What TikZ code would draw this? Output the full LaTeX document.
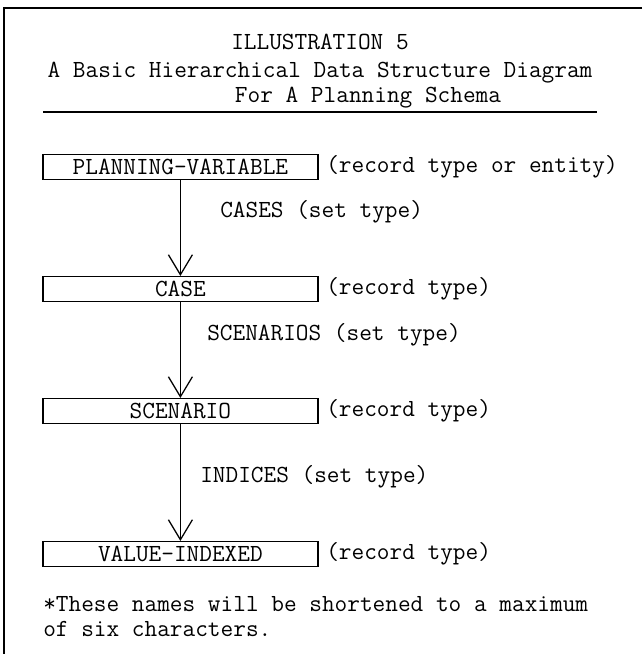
\documentclass[tikz,border=0pt]{standalone}
\usepackage{fontspec}
\usepackage{tikz}
\usetikzlibrary{arrows.meta}

\begin{document}
\begin{tikzpicture}[
    every node/.style={font=\ttfamily\fontsize{17.5}{21}\selectfont, inner sep=0pt},
    record/.style={draw, line width=0.9pt, minimum width=6.875cm,
        minimum height=0.62cm},
    settype/.style={line width=0.9pt,
        -{Straight Barb[length=5mm, width=6mm, line width=0.9pt]}},
    lbl/.style={anchor=west}
]
\useasboundingbox (0,0) rectangle (16.05,16.35);
\draw[line width=1.3pt] (16.05,16.15) -- (0.1,16.15) -- (0.1,0);
\node (title) at (8.0,15.3) {ILLUSTRATION 5};
\node (head1) at (8.0,14.53) {A Basic Hierarchical Data Structure Diagram};
\node (head2) at (9.2,13.9) {For A Planning Schema};
\draw[line width=1.1pt] (1.075,13.55) -- (14.925,13.55);
\node[record] (pv)  at (4.51,12.175) {PLANNING-VARIABLE};
\node[record] (cs)  at (4.51, 9.125) {CASE};
\node[record] (sc)  at (4.51, 6.075) {SCENARIO};
\node[record] (vi)  at (4.51, 2.5)   {VALUE-INDEXED};
\node[lbl] (pvt) at (8.15,12.175) {(record type or entity)};
\node[lbl] (cst) at (8.15, 9.125) {(record type)};
\node[lbl] (sct) at (8.15, 6.075) {(record type)};
\node[lbl] (vit) at (8.15, 2.5)   {(record type)};
\draw[settype] (pv) -- (cs);
\draw[settype] (cs) -- (sc);
\draw[settype] (sc) -- (vi);
\node[lbl] (cases) at (5.5,11.05) {CASES (set type)};
\node[lbl] (scen)  at (5.175,7.975) {SCENARIOS (set type)};
\node[lbl] (indx)  at (5.0,4.425) {INDICES (set type)};
\node[lbl, align=left, font=\ttfamily\fontsize{17.5}{17.5}\selectfont]
    (foot) at (1.075,0.93)
    {*These names will be shortened to a maximum\\of six characters.};
\end{tikzpicture}
\end{document}
